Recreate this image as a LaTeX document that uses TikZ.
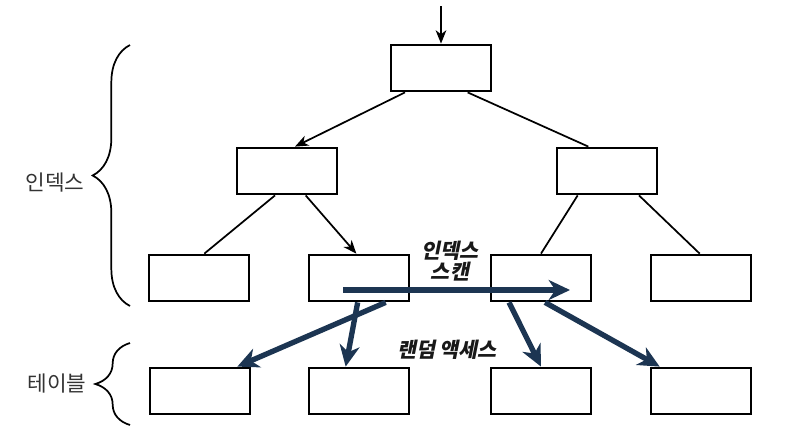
\documentclass[tikz,border=0pt]{standalone}
\usepackage{fontspec}
\setmainfont{Noto Sans CJK KR}
\newfontfamily\cjkit{Noto Sans CJK KR}[FakeSlant=0.2]
\usetikzlibrary{arrows.meta,decorations.pathreplacing}
\definecolor{navy}{HTML}{1C3552}
\begin{document}
\begin{tikzpicture}[x=0.75pt,y=-0.75pt,
  box/.style={draw,line width=1.6pt,minimum width=75pt,minimum height=35pt,inner sep=0pt},
  tline/.style={line width=1.3pt},
  tarr/.style={line width=1.3pt,-{Stealth[length=10pt,width=8pt,inset=3pt]}},
  rarr/.style={navy,line width=4pt,-{Stealth[length=16pt,width=15pt,inset=5pt]}},
  brc/.style={decorate,decoration={brace,amplitude=28pt},line width=1.3pt},
  side/.style={font=\fontsize{16}{18}\selectfont,text=black!80},
  mid/.style={font=\cjkit\bfseries\fontsize{15.5}{18}\selectfont,align=center,text=black!90}]
\useasboundingbox (0,0) rectangle (800,447);
% boxes
\node[box] (r) at (441,68) {};
\node[box] (a) at (287,171) {};
\node[box] (b) at (607,171) {};
\node[box] (l1) at (199,278) {};
\node[box] (l2) at (359,278) {};
\node[box] (l3) at (541,278) {};
\node[box] (l4) at (701,278) {};
\node[box] (t1) at (200,391) {};
\node[box] (t2) at (359,391) {};
\node[box] (t3) at (541,391) {};
\node[box] (t4) at (701,391) {};
% entry arrow
\coordinate (in) at (441,6);
\draw[tarr] (in) -- (r.north);
% tree lines
\draw[tarr] ([xshift=-27pt]r.south) -- ([xshift=6pt]a.north);
\draw[tline] ([xshift=20pt]r.south) -- ([xshift=-14pt]b.north);
\draw[tline] ([xshift=-9pt]a.south) -- ([xshift=4pt]l1.north);
\draw[tarr] ([xshift=14pt]a.south) -- ([xshift=-2pt]l2.north);
\draw[tline] ([xshift=-22pt]b.south) -- (l3.north);
\draw[tline] ([xshift=24pt]b.south) -- ([xshift=-1pt]l4.north);
% navy arrows
\coordinate (s0) at (343,290);
\coordinate (s1) at (570,290);
\draw[rarr] (s0) -- (s1);
\draw[rarr] ([xshift=20pt]l2.south) -- ([xshift=28pt]t1.north);
\draw[rarr] ([xshift=-1pt]l2.south) -- ([xshift=-10pt]t2.north);
\draw[rarr] ([xshift=-24pt]l3.south) -- ([xshift=0pt]t3.north);
\draw[rarr] ([xshift=3pt]l3.south) -- ([xshift=-31pt]t4.north);
% labels
\node[mid] (scan) at (450,261) {인덱스\\[-2pt]스캔};
\node[mid] (rand) at (447,350) {랜덤 액세스};
% braces
\coordinate (b1a) at (130,306);
\coordinate (b1b) at (130,45);
\coordinate (b2a) at (130,425);
\coordinate (b2b) at (130,343);
\draw[brc] (b1a) -- (b1b);
\draw[brc,decoration={brace,amplitude=26pt}] (b2a) -- (b2b);
\node[side] (li) at (55,183) {인덱스};
\node[side] (lt) at (57,384) {테이블};
\end{tikzpicture}
\end{document}
